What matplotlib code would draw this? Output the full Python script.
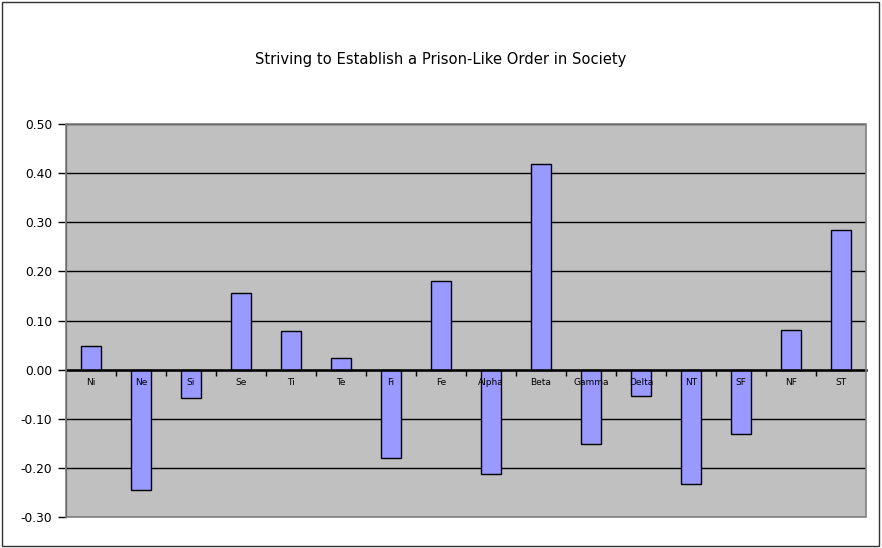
import matplotlib.pyplot as plt
from matplotlib.patches import Rectangle

categories = ["Ni", "Ne", "Si", "Se", "Ti", "Te", "Fi", "Fe", "Alpha", "Beta",
              "Gamma", "Delta", "NT", "SF", "NF", "ST"]
values = [0.048, -0.245, -0.058, 0.156, 0.079, 0.024, -0.179, 0.181, -0.212,
          0.419, -0.151, -0.054, -0.233, -0.131, 0.081, 0.285]
yticks = [-0.3, -0.2, -0.1, 0.0, 0.1, 0.2, 0.3, 0.4, 0.5]

fig = plt.figure(figsize=(8.82, 5.48), dpi=100)
fig.patch.set_facecolor("white")
# outer chart border
fig.add_artist(Rectangle((0.002, 0.003), 0.995, 0.994, transform=fig.transFigure,
                         fill=False, edgecolor="#333333", lw=1))

ax = fig.add_axes([0.0748, 0.0566, 0.907, 0.717])
ax.set_facecolor("#c0c0c0")

x = list(range(len(categories)))
ax.bar(x, values, width=0.4, color="#9999ff", edgecolor="black", lw=1, zorder=3)

ax.set_xlim(-0.5, len(categories) - 0.5)
ax.set_ylim(-0.3, 0.5)
ax.set_yticks(yticks)
ax.set_yticklabels([f"{v:.2f}" for v in yticks], fontsize=8.8)
ax.yaxis.grid(True, color="black", lw=1, zorder=1)
ax.set_axisbelow(True)

for s in ["top", "right"]:
    ax.spines[s].set_visible(False)
ax.spines["left"].set_color("black")
ax.spines["bottom"].set_position(("data", 0))
ax.spines["bottom"].set_linewidth(1.8)
ax.spines["bottom"].set_zorder(4)
ax.tick_params(axis="y", direction="out", length=6, width=1, pad=4)

ax.set_xticks([i + 0.5 for i in x[:-1]])
ax.set_xticklabels([])
ax.tick_params(axis="x", direction="out", length=4, width=1)

for xi, name in zip(x, categories):
    ax.text(xi, -0.026, name, ha="center", va="center", fontsize=6.5, zorder=5)

ax.add_patch(Rectangle((0, 0), 1, 1, transform=ax.transAxes, fill=False,
                       edgecolor="#808080", lw=1.2, clip_on=False, zorder=6))

fig.text(0.5, 0.892, "Striving to Establish a Prison-Like Order in Society",
         ha="center", va="center", fontsize=10.6)

fig.savefig("out.png", dpi=100)
